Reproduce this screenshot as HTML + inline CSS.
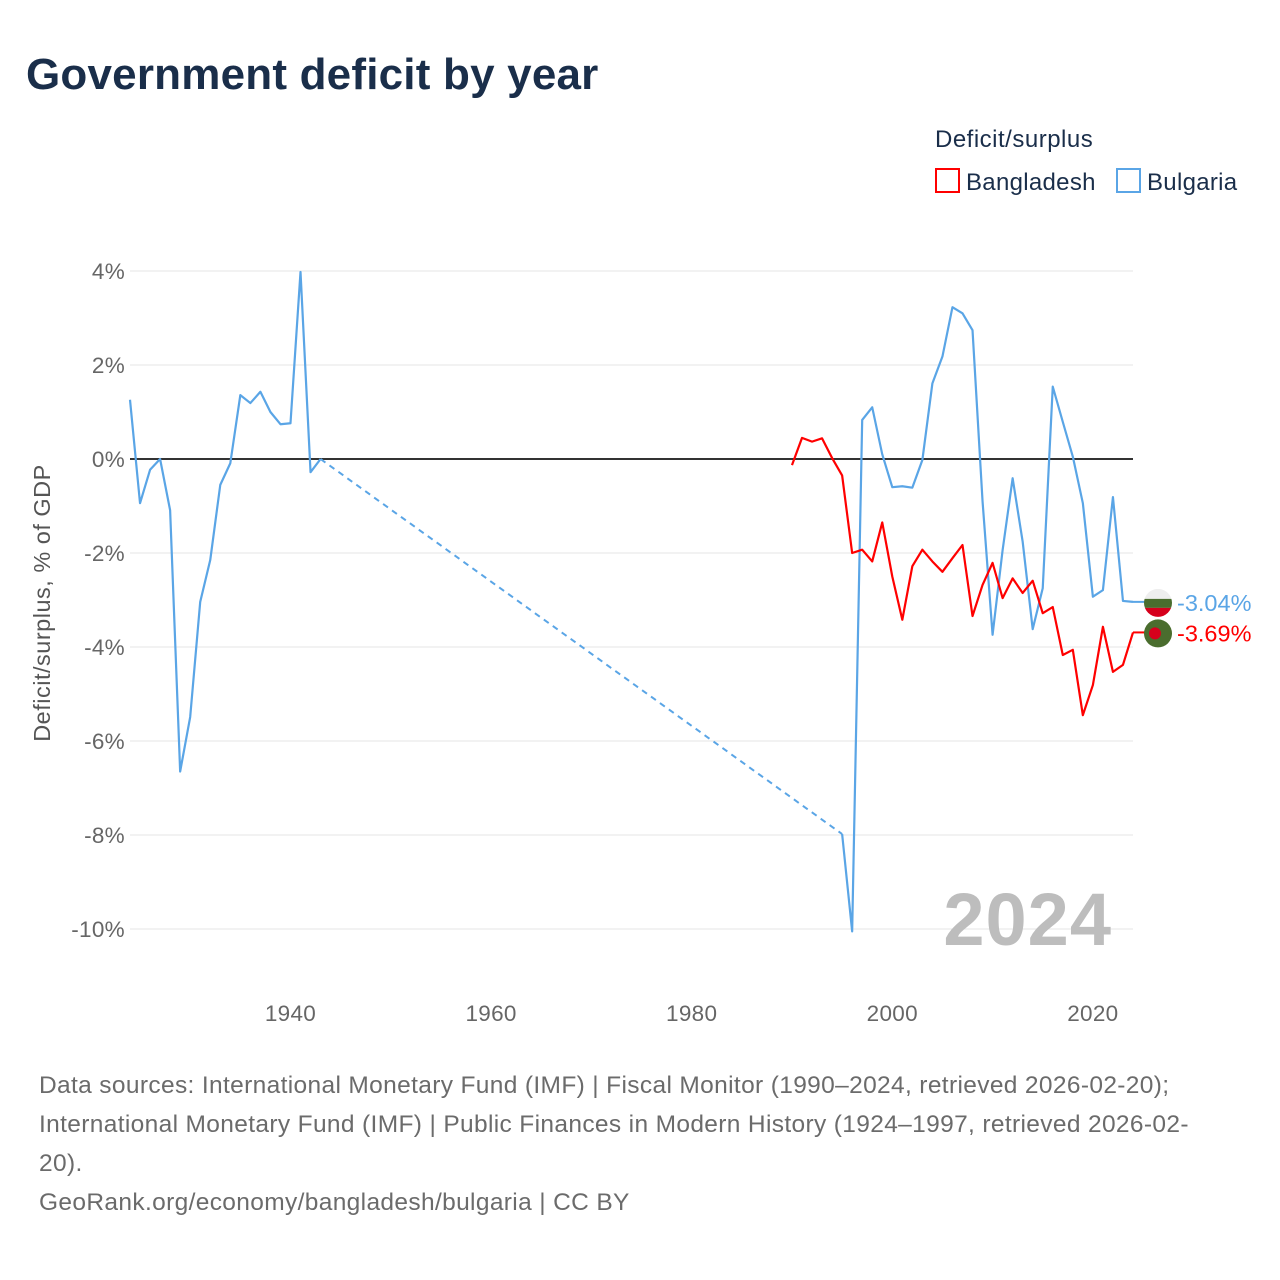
<!DOCTYPE html>
<html><head><meta charset="utf-8"><style>
body{margin:0;background:#fff;font-family:"Liberation Sans",sans-serif;}
#wrap{position:relative;width:1280px;height:1280px;overflow:hidden;}
h1{position:absolute;left:26px;top:50px;margin:0;font-size:44px;font-weight:bold;color:#1a2e4a;letter-spacing:0.2px;}
.foot{position:absolute;left:39px;top:1066px;font-size:24.5px;line-height:39px;color:#6b6b6b;width:1230px;letter-spacing:0.35px;white-space:nowrap;}
</style></head><body>
<div id="wrap">
<h1>Government deficit by year</h1>
<svg id="chart" width="1280" height="1280" style="position:absolute;left:0;top:0"></svg>
<div class="foot">Data sources: International Monetary Fund (IMF) | Fiscal Monitor (1990–2024, retrieved 2026-02-20);<br>International Monetary Fund (IMF) | Public Finances in Modern History (1924–1997, retrieved 2026-02-<br>20).<br>GeoRank.org/economy/bangladesh/bulgaria | CC BY</div>
</div>
<script>
const yTicks=[4,2,0,-2,-4,-6,-8,-10];
const xTicks=[1940,1960,1980,2000,2020];
const bgYears=[1924,1925,1926,1927,1928,1929,1930,1931,1932,1933,1934,1935,1936,1937,1938,1939,1940,1941,1942,1943,1995,1996,1997,1998,1999,2000,2001,2002,2003,2004,2005,2006,2007,2008,2009,2010,2011,2012,2013,2014,2015,2016,2017,2018,2019,2020,2021,2022,2023,2024];
const bgValues=[1.26,-0.94,-0.23,0,-1.09,-6.65,-5.49,-3.04,-2.15,-0.55,-0.09,1.36,1.19,1.43,1.0,0.74,0.76,3.98,-0.28,0,-7.98,-10.05,0.83,1.1,0.1,-0.6,-0.58,-0.61,-0.02,1.61,2.18,3.23,3.1,2.74,-0.9,-3.74,-1.94,-0.41,-1.76,-3.62,-2.75,1.54,0.79,0.05,-0.94,-2.93,-2.79,-0.81,-3.02,-3.04];
const bdYears=[1990,1991,1992,1993,1994,1995,1996,1997,1998,1999,2000,2001,2002,2003,2004,2005,2006,2007,2008,2009,2010,2011,2012,2013,2014,2015,2016,2017,2018,2019,2020,2021,2022,2023,2024];
const bdValues=[-0.13,0.45,0.37,0.44,0.02,-0.35,-2.0,-1.93,-2.18,-1.35,-2.5,-3.42,-2.28,-1.93,-2.18,-2.4,-2.11,-1.83,-3.34,-2.68,-2.21,-2.96,-2.54,-2.85,-2.59,-3.28,-3.15,-4.17,-4.06,-5.45,-4.81,-3.57,-4.53,-4.38,-3.69];

const NS='http://www.w3.org/2000/svg';
const svg=document.getElementById('chart');
const X=y=>130+(y-1924)*10.03;
const Y=v=>459-v*47;
function mk(t,a,txt){const e=document.createElementNS(NS,t);for(const k in a)e.setAttribute(k,a[k]);if(txt!==undefined)e.textContent=txt;svg.appendChild(e);return e;}
yTicks.forEach(v=>{
 const l=mk('line',{x1:130,x2:1133,y1:Y(v),y2:Y(v),stroke:v===0?'#333':'#e6e6e6','stroke-width':v===0?2:1});
 
 
 const t=mk('text',{x:125,y:Y(v)+8,'text-anchor':'end','font-size':22.5,fill:'#666','letter-spacing':0.3},v+'%');
 
 
});
xTicks.forEach(v=>{
 const t=mk('text',{x:X(v),y:1021,'text-anchor':'middle','font-size':22.5,fill:'#666','letter-spacing':0.3},v);
 
 
});
const yt=mk('text',{x:0,y:0,transform:'translate(50,603) rotate(-90)','text-anchor':'middle','font-size':23.5,fill:'#555','letter-spacing':0.5},'Deficit/surplus, % of GDP');


const yr=mk('text',{x:1112,y:945,'text-anchor':'end','font-size':74,'font-weight':'bold',fill:'#bdbdbd','letter-spacing':1},'2024');


function series(years,vals,color,name){
 let segs=[[]];
 for(let i=0;i<years.length;i++){
  if(i>0&&years[i]-years[i-1]>1){
   const d=mk('line',{x1:X(years[i-1]),y1:Y(vals[i-1]),x2:X(years[i]),y2:Y(vals[i]),stroke:color,'stroke-width':2,'stroke-dasharray':'6,5'});
   
   
   segs.push([]);
  }
  segs[segs.length-1].push(X(years[i])+','+Y(vals[i]));
 }
 segs.forEach(s=>{
  const p=mk('polyline',{points:s.join(' '),fill:'none',stroke:color,'stroke-width':2.2,'stroke-linejoin':'round'});
  
  
 });
}
series(bgYears,bgValues,'#5aa5e6','bulgaria');
series(bdYears,bdValues,'#ff0000','bangladesh');
const bgEnd=bgValues[bgValues.length-1], bdEnd=bdValues[bdValues.length-1];
let e=mk('line',{x1:1133,x2:1146,y1:Y(bgEnd),y2:Y(bgEnd),stroke:'#5aa5e6','stroke-width':2});

e=mk('line',{x1:1133,x2:1146,y1:Y(bdEnd),y2:Y(bdEnd),stroke:'#ff0000','stroke-width':2});

const cy1=Y(bgEnd)+1, cy2=Y(bdEnd)+1;
mk('defs',{}).innerHTML='<clipPath id="c1"><circle cx="1158" cy="'+cy1+'" r="14"/></clipPath>';
let g=mk('g',{'clip-path':'url(#c1)'});


g.innerHTML='<rect x="1144" y="'+(cy1-14)+'" width="28" height="10" fill="#eee"/><rect x="1144" y="'+(cy1-4)+'" width="28" height="9" fill="#4a6d2e"/><rect x="1144" y="'+(cy1+5)+'" width="28" height="10" fill="#d6001c"/>';
g=mk('g',{});


g.innerHTML='<circle cx="1158" cy="'+cy2+'" r="14" fill="#4a6d2e"/><circle cx="1155" cy="'+cy2+'" r="6" fill="#d6001c"/>';
let t=mk('text',{x:1177,y:Y(bgEnd)+9,'font-size':23.5,fill:'#5aa5e6'},bgEnd.toFixed(2)+'%');

t=mk('text',{x:1177,y:Y(bdEnd)+9,'font-size':23.5,fill:'#ff0000'},bdEnd.toFixed(2)+'%');

t=mk('text',{x:935,y:147,'font-size':24,fill:'#1a2e4a','letter-spacing':0.5},'Deficit/surplus');

let r=mk('rect',{x:936,y:169,width:23,height:23,fill:'#fff',stroke:'#ff0000','stroke-width':2});

t=mk('text',{x:966,y:190,'font-size':24,fill:'#1a2e4a','letter-spacing':0.3},'Bangladesh');

r=mk('rect',{x:1117,y:169,width:23,height:23,fill:'#fff',stroke:'#5aa5e6','stroke-width':2});

t=mk('text',{x:1147,y:190,'font-size':24,fill:'#1a2e4a','letter-spacing':0.3},'Bulgaria');

</script>
</body></html>
